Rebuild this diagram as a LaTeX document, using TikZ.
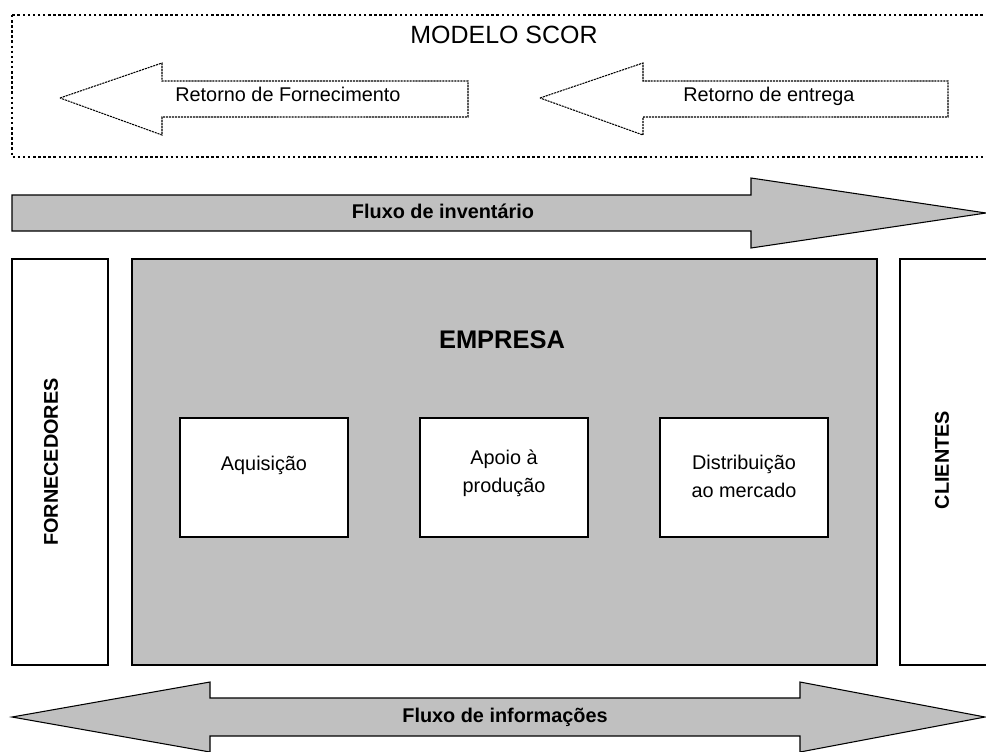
\documentclass[tikz,border=0pt]{standalone}
\usepackage{fontspec}
\setmainfont{Liberation Sans}
\definecolor{boxgray}{HTML}{C0C0C0}

\begin{document}
\begin{tikzpicture}[x=0.02cm, y=-0.02cm,
        frame/.style={draw=black, line width=0.8pt},
        flow/.style={draw=black, line width=0.6pt, fill=boxgray},
        ret/.style={draw=black, line width=0.6pt, dash pattern=on 1.2pt off 0.5pt},
        lbl/.style={font=\fontsize{11.3}{15.5}\selectfont, inner sep=0pt},
        blbl/.style={font=\fontsize{11.3}{15.5}\selectfont\bfseries, inner sep=0pt},
        big/.style={font=\fontsize{14.2}{17}\selectfont, inner sep=0pt}]
        \useasboundingbox (0,0) rectangle (986,751);
        \clip (0,0) rectangle (986,751);

        % modelo scor
        \draw[line width=1.4pt, dash pattern=on 1.4pt off 1.5pt] (12,15) rectangle (1000,157);
        \node[big, anchor=base] (scor) at (504,43) {MODELO SCOR};
        \draw[ret] (60,98)--(162,63)--(162,81)--(468,81)--(468,117)--(162,117)--(162,135)--cycle;
        \node[lbl, anchor=base west] (retforn) at (175,101) {Retorno de Fornecimento};
        \draw[ret] (540,98)--(643,63)--(643,81)--(948,81)--(948,117)--(643,117)--(643,135)--cycle;
        \node[lbl, anchor=base west] (retentr) at (683,101) {Retorno de entrega};

        % fluxo de inventario
        \draw[flow] (12,195)--(751,195)--(751,178)--(986,213)--(751,248)--(751,231)--(12,231)--cycle;
        \node[blbl, anchor=base] (inv) at (443,218) {Fluxo de inventário};

        % cadeia
        \draw[frame, fill=white] (12,259) rectangle (108,665);
        \node[blbl, rotate=90] (forn) at (51,462) {FORNECEDORES};
        \draw[frame, fill=boxgray] (132,259) rectangle (877,665);
        \node[big, font=\fontsize{14.5}{17}\selectfont\bfseries, anchor=base] (emp) at (502,348) {EMPRESA};
        \draw[frame, fill=white] (900,259) rectangle (1000,665);
        \node[blbl, rotate=90] (cli) at (942,460) {CLIENTES};

        \draw[frame, fill=white] (180,418) rectangle (348,537);
        \node[lbl] (aq) at (264,465) {Aquisição};
        \draw[frame, fill=white] (420,418) rectangle (588,537);
        \node[lbl, align=center, font=\fontsize{11.3}{16}\selectfont] (ap) at (504,473) {Apoio à\\produção};
        \draw[frame, fill=white] (660,418) rectangle (828,537);
        \node[lbl, align=center, font=\fontsize{11.3}{16}\selectfont] (dist) at (744,476) {Distribuição\\ao mercado};

        % fluxo de informacoes
        \draw[flow] (12,717)--(210,682)--(210,698)--(800,698)--(800,682)--(985,717)--(800,752)--(800,736)--(210,736)--(210,752)--cycle;
        \node[blbl, anchor=base] (info) at (505,722) {Fluxo de informações};
    \end{tikzpicture}
\end{document}
